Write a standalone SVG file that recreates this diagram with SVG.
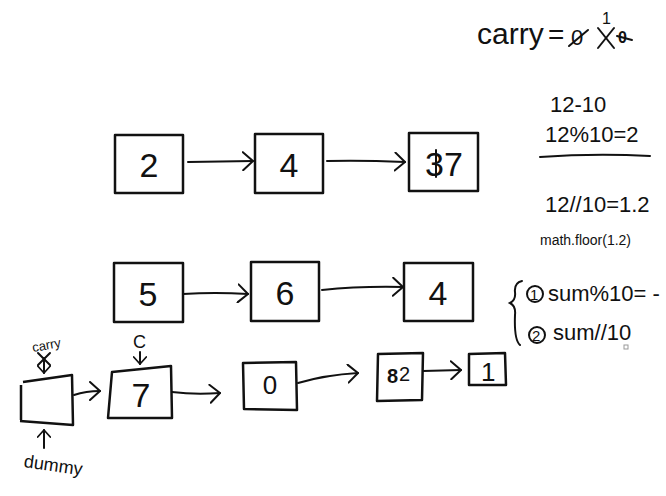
<svg xmlns="http://www.w3.org/2000/svg" width="666" height="496" viewBox="0 0 666 496">
<style>
.box{fill:none;stroke:#111;stroke-width:2.5;stroke-linejoin:round}
.ln{fill:none;stroke:#111;stroke-width:2;stroke-linecap:round}
.t{font-family:"Liberation Sans",Arial,sans-serif;fill:#111}
.big{font-size:34px}
.mid{font-size:22px}
</style>
<defs>
<marker id="ah" viewBox="0 0 12 20" refX="11" refY="10" markerWidth="12" markerHeight="20" markerUnits="userSpaceOnUse" orient="auto">
<path d="M1,1 L11,10 L1,19" fill="none" stroke="#111" stroke-width="2" stroke-linecap="round" stroke-linejoin="round"/>
</marker>
<marker id="ahs" viewBox="0 0 12 20" refX="11" refY="10" markerWidth="9" markerHeight="14" markerUnits="userSpaceOnUse" orient="auto">
<path d="M1,1 L11,10 L1,19" fill="none" stroke="#111" stroke-width="2.5" stroke-linecap="round" stroke-linejoin="round"/>
</marker>
</defs>
<rect width="666" height="496" fill="#fff"/>

<g id="carry-note">
<text class="t" x="477" y="44" font-size="30">carry</text>
<text class="t" x="548" y="44" font-size="28">=</text>
<text class="t" x="571" y="45" font-size="22">0</text>
<line class="ln" x1="569" y1="46" x2="588" y2="30"/>
<text class="t" x="602" y="24" font-size="16">1</text>
<line class="ln" x1="598" y1="28" x2="614" y2="48"/>
<line class="ln" x1="614" y1="28" x2="598" y2="48"/>
<text class="t" x="618" y="43" font-size="16" font-weight="bold">0</text>
<line class="ln" x1="617" y1="36" x2="632" y2="40"/>
</g>

<g id="math-notes">
<text class="t mid" x="550" y="112" font-size="20">12-10</text>
<text class="t mid" x="545" y="142">12%10=2</text>
<path class="ln" d="M540,157 Q595,153 650,156"/>
<text class="t mid" x="545" y="212">12//10=1.2</text>
<text class="t" x="540" y="245" font-size="14">math.floor(1.2)</text>
<path class="ln" d="M522,281 Q514,283 515,292 Q516,300 510,303 Q516,306 515,315 Q514,340 520,345"/>
<circle class="ln" cx="535" cy="294" r="8"/>
<text class="t" x="530" y="300" font-size="15">1</text>
<text class="t mid" x="548" y="301">sum%10= -</text>
<circle class="ln" cx="537" cy="335" r="8"/>
<text class="t" x="532" y="341" font-size="15">2</text>
<text class="t mid" x="553" y="340">sum//10</text>
<rect x="624" y="345" width="4" height="4" fill="none" stroke="#999" stroke-width="1"/>
</g>

<g id="n-2"><path class="box" d="M115,135 L183,135 L183,193 L115,193 Z"/><text class="t big" x="149" y="177" text-anchor="middle">2</text></g>
<g id="n-4a"><path class="box" d="M255,134 L323,134 L323,193 L255,193 Z"/><text class="t big" x="289" y="177" text-anchor="middle">4</text></g>
<g id="n-37"><path class="box" d="M409,133 L478,133 L478,191 L409,191 Z"/><text class="t big" x="425" y="176">37</text><line class="ln" x1="436" y1="150" x2="436" y2="177"/></g>

<g id="n-5"><path class="box" d="M114,263 L183,263 L183,322 L114,322 Z"/><text class="t big" x="148" y="306" text-anchor="middle">5</text></g>
<g id="n-6"><path class="box" d="M251,262 L319,262 L319,321 L251,321 Z"/><text class="t big" x="285" y="305" text-anchor="middle">6</text></g>
<g id="n-4b"><path class="box" d="M404,263 L473,263 L473,321 L404,321 Z"/><text class="t big" x="438" y="305" text-anchor="middle">4</text></g>

<g id="n-dummy"><path class="box" d="M23,382 L72,375 L73,425 L20,421 M21,385 L21,420"/></g>
<g id="n-7"><path class="box" d="M112,372 L171,366 L172,418 L108,418 Z"/><text class="t big" x="141" y="407" text-anchor="middle">7</text></g>
<g id="n-0"><path class="box" d="M243,363 L296,362 L297,410 L244,409 Z"/><text class="t" x="270" y="394" font-size="26" text-anchor="middle">0</text></g>
<g id="n-82"><path class="box" d="M378,354 L423,353 L422,400 L377,401 Z"/><text class="t" x="387" y="383" font-size="20" font-weight="bold">8</text><text class="t" x="399" y="381" font-size="20">2</text></g>
<g id="n-1"><path class="box" d="M469,354 L505,353 L506,385 L469,385 Z"/><text class="t" x="481" y="381" font-size="26">1</text></g>

<g id="labels">
<text class="t" x="32" y="350" font-size="13" transform="rotate(-10 44 345)">carry</text>
<line class="ln" x1="38" y1="353" x2="50" y2="365"/>
<line class="ln" x1="50" y1="353" x2="38" y2="365"/>
<line class="ln" x1="44" y1="358" x2="44" y2="373" marker-end="url(#ahs)"/>
<text class="t" x="133" y="348" font-size="18">C</text>
<line class="ln" x1="140" y1="352" x2="140" y2="364" marker-end="url(#ahs)"/>
<line class="ln" x1="44" y1="448" x2="44" y2="430" marker-end="url(#ahs)"/>
<text class="t" x="24" y="470" font-size="18" transform="rotate(8 45 463)">dummy</text>
</g>

<g id="connectors">
<path class="ln" d="M188,162 L253,161" marker-end="url(#ah)"/>
<path class="ln" d="M327,161 Q360,160 405,162" marker-end="url(#ah)"/>
<path class="ln" d="M183,294 Q215,292 248,294" marker-end="url(#ah)"/>
<path class="ln" d="M322,290 Q360,286 403,287" marker-end="url(#ah)"/>
<path class="ln" d="M74,395 Q86,391 100,391" marker-end="url(#ah)"/>
<path class="ln" d="M172,392 Q195,395 220,393" marker-end="url(#ah)"/>
<path class="ln" d="M298,383 Q325,375 358,373" marker-end="url(#ah)"/>
<path class="ln" d="M423,371 L461,370" marker-end="url(#ah)"/>
</g>
</svg>
